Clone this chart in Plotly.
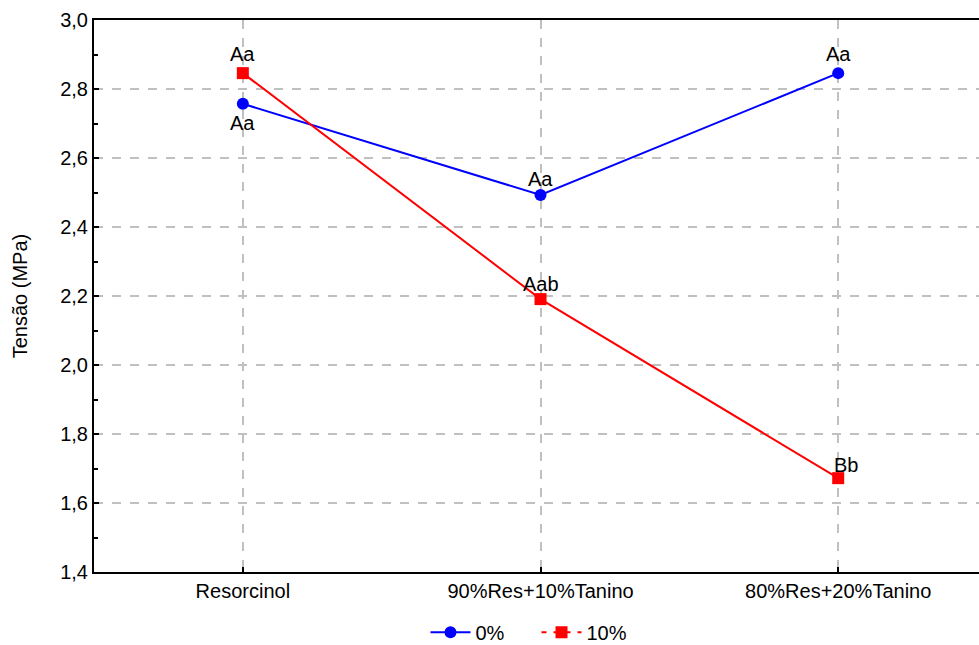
import plotly.graph_objects as go

categories = ["Resorcinol", "90%Res+10%Tanino", "80%Res+20%Tanino"]
series_names = ["0%", "10%"]
values_0 = [2.757, 2.493, 2.846]
values_10 = [2.846, 2.191, 1.672]
labels_0 = ["Aa", "Aa", "Aa"]
labels_10 = ["Aa", "Aab", "Bb"]
y_ticks = [1.4, 1.6, 1.8, 2.0, 2.2, 2.4, 2.6, 2.8, 3.0]

FONT = "Liberation Sans, Arial, sans-serif"
BLUE = "#0000ff"
RED = "#ff0000"
FS = 20

fig = go.Figure()
x_idx = list(range(len(categories)))

fig.add_trace(go.Scatter(x=x_idx, y=values_0, mode="lines+markers",
                         line=dict(color=BLUE, width=2),
                         marker=dict(symbol="circle", size=12, color=BLUE),
                         showlegend=False, cliponaxis=False))
fig.add_trace(go.Scatter(x=x_idx, y=values_10, mode="lines+markers",
                         line=dict(color=RED, width=2),
                         marker=dict(symbol="square", size=12, color=RED),
                         showlegend=False, cliponaxis=False))
# legend entries
fig.add_trace(go.Scatter(x=[None], y=[None], mode="lines+markers", name=series_names[0],
                         line=dict(color=BLUE, width=2),
                         marker=dict(symbol="circle", size=12, color=BLUE)))
fig.add_trace(go.Scatter(x=[None], y=[None], mode="lines+markers", name=series_names[1],
                         line=dict(color=RED, width=2, dash="5px,7px"),
                         marker=dict(symbol="square", size=12, color=RED)))

shifts_0 = [-19, 16, 19]
shifts_10 = [19, 15, 13]
xshift_10 = [0, 0, 8]
for i in x_idx:
    fig.add_annotation(x=i, y=values_0[i], text=labels_0[i], showarrow=False,
                       yshift=shifts_0[i], font=dict(family=FONT, size=FS, color="black"))
    fig.add_annotation(x=i, y=values_10[i], text=labels_10[i], showarrow=False,
                       yshift=shifts_10[i], xshift=xshift_10[i],
                       font=dict(family=FONT, size=FS, color="black"))

fig.update_layout(
    width=979, height=645,
    margin=dict(l=94, r=0, t=20, b=73, autoexpand=False),
    plot_bgcolor="white", paper_bgcolor="white",
    separators=",.",
    font=dict(family=FONT, size=FS, color="black"),
    legend=dict(orientation="h", x=0.5, xanchor="center", y=-0.074, yanchor="top",
                font=dict(family=FONT, size=FS), itemwidth=40, entrywidth=56),
)
fig.update_xaxes(
    range=[-0.5, 2.473], tickmode="array", tickvals=x_idx, ticktext=categories,
    showline=True, linecolor="black", linewidth=2, mirror=True,
    ticks="inside", ticklen=5, tickcolor="black", tickwidth=1.5,
    showgrid=True, gridcolor="#c0c0c0", griddash="dash", gridwidth=1.5,
    zeroline=False, tickfont=dict(family=FONT, size=FS), automargin=False,
)
fig.update_yaxes(
    range=[1.4, 3.0], tickmode="array", tickvals=y_ticks, tickformat=".1f",
    showline=True, linecolor="black", linewidth=2,
    ticks="inside", ticklen=5, tickcolor="black", tickwidth=1.5,
    showgrid=True, gridcolor="#c0c0c0", griddash="dash", gridwidth=1.5,
    minor=dict(dtick=0.1, tick0=1.4, ticks="inside", ticklen=4, tickcolor="black", showgrid=False),
    zeroline=False, tickfont=dict(family=FONT, size=FS), automargin=False,
    title=dict(text="Tensão (MPa)", font=dict(family=FONT, size=FS), standoff=27),
)

fig.write_html("out.html",
               config={"displayModeBar": False},
               post_script="document.body.style.margin='0';document.body.style.overflow='hidden';")
